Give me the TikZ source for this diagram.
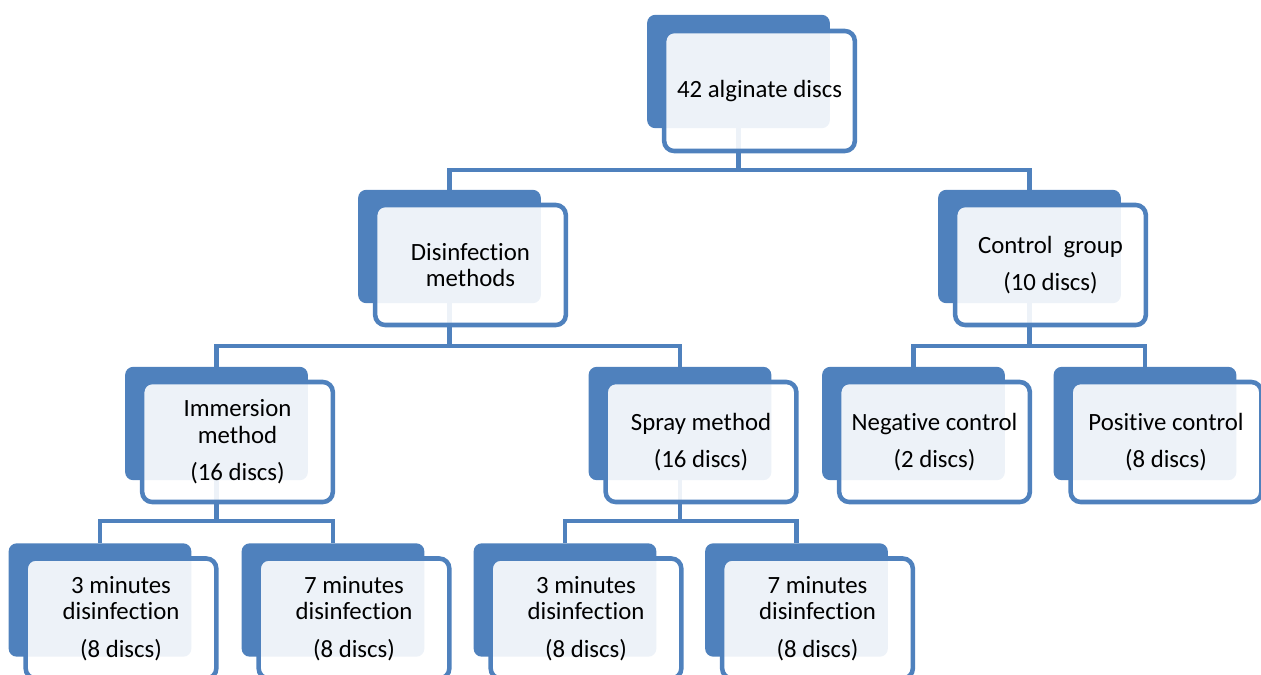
\documentclass[tikz,border=0pt]{standalone}
\usepackage{fontspec}
\setmainfont{Carlito}[Ligatures=NoCommon]
\usetikzlibrary{backgrounds}
\definecolor{accent}{RGB}{79,129,189}

\begin{document}
\begin{tikzpicture}[
    x=0.75pt, y=-0.75pt,
    backbox/.style={fill=accent, rounded corners=6pt, minimum width=137pt, minimum height=85pt, inner sep=0pt},
    frontbox/.style={draw=accent, line width=3.4pt, fill=white, fill opacity=0.9, text opacity=1, rounded corners=7.5pt, minimum width=143pt, minimum height=90pt, inner sep=0pt, align=center, font=\fontsize{18.6pt}{20pt}\selectfont},
    link/.style={draw=accent, line width=3.2pt},
]
    \useasboundingbox (0,0) rectangle (1261,675);

    \node[backbox] (rootb) at (738.5,71.5) {};
    \node[frontbox] (root) at ([shift={(21,19.5)}]rootb.center) {42 alginate discs};

    \node[backbox] (dmb) at (449.5,246.5) {};
    \node[frontbox] (dm) at ([shift={(21,18.5)}]dmb.center) {Disinfection\\methods};
    \node[backbox] (cgb) at (1029.5,246.5) {};
    \node[frontbox] (cg) at ([shift={(21,18.5)}]cgb.center) {Control\ \ group\\[8pt](10 discs)};

    \node[backbox] (imb) at (216.5,423.5) {};
    \node[frontbox] (im) at ([shift={(21,18.5)}]imb.center) {Immersion\\method\\[8pt](16 discs)};
    \node[backbox] (spb) at (680,423.5) {};
    \node[frontbox] (sp) at ([shift={(21,18.5)}]spb.center) {Spray method\\[8pt](16 discs)};
    \node[backbox] (negb) at (913.5,423.5) {};
    \node[frontbox] (neg) at ([shift={(21,18.5)}]negb.center) {Negative control\\[8pt](2 discs)};
    \node[backbox] (posb) at (1145,423.5) {};
    \node[frontbox] (pos) at ([shift={(21,18.5)}]posb.center) {Positive control\\[8pt](8 discs)};

    \node[backbox] (im3b) at (100,600) {};
    \node[frontbox] (im3) at ([shift={(21,18.5)}]im3b.center) {3 minutes\\disinfection\\[8pt](8 discs)};
    \node[backbox] (im7b) at (333,600) {};
    \node[frontbox] (im7) at ([shift={(21,18.5)}]im7b.center) {7 minutes\\disinfection\\[8pt](8 discs)};
    \node[backbox] (sp3b) at (565,600) {};
    \node[frontbox] (sp3) at ([shift={(21,18.5)}]sp3b.center) {3 minutes\\disinfection\\[8pt](8 discs)};
    \node[backbox] (sp7b) at (796.5,600) {};
    \node[frontbox] (sp7) at ([shift={(21,18.5)}]sp7b.center) {7 minutes\\disinfection\\[8pt](8 discs)};

    % tree lines, behind the boxes
    \begin{scope}[on background layer]
        \draw[link] (rootb.center) -- ++(0,98.5) -| (dmb.north);
        \draw[link] (rootb.center) -- ++(0,98.5) -| (cgb.north);
        \draw[link] (dmb.center) -- ++(0,99.5) -| (imb.north);
        \draw[link] (dmb.center) -- ++(0,99.5) -| (spb.north);
        \draw[link] (cgb.center) -- ++(0,99.5) -| (negb.north);
        \draw[link] (cgb.center) -- ++(0,99.5) -| (posb.north);
        \draw[link] (imb.center) -- ++(0,97.5) -| (im3b.north);
        \draw[link] (imb.center) -- ++(0,97.5) -| (im7b.north);
        \draw[link] (spb.center) -- ++(0,97.5) -| (sp3b.north);
        \draw[link] (spb.center) -- ++(0,97.5) -| (sp7b.north);
    \end{scope}
\end{tikzpicture}
\end{document}
